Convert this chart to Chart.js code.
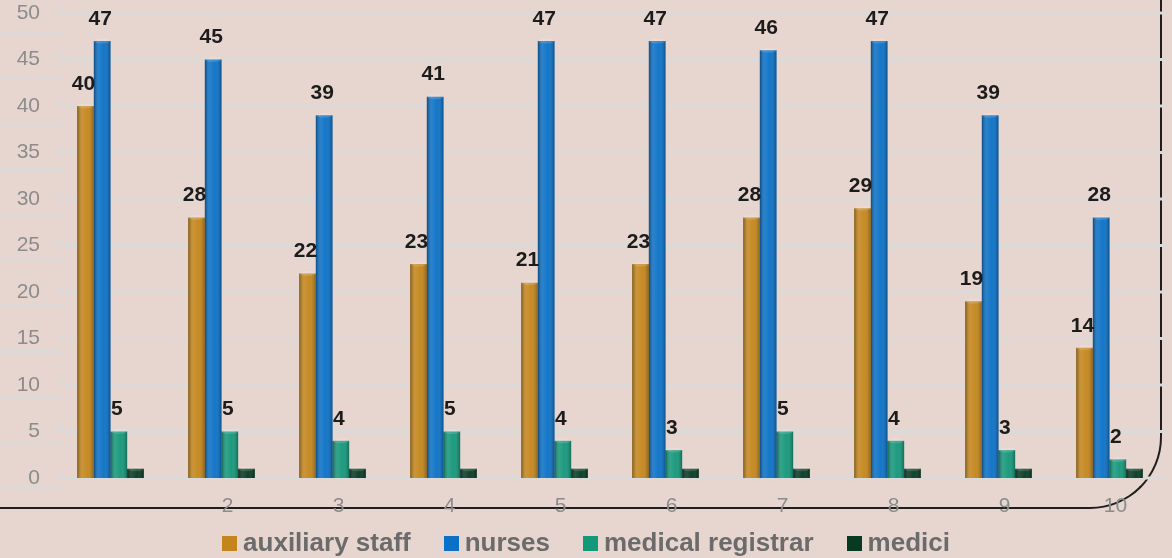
<!DOCTYPE html>
<html>
<head>
<meta charset="utf-8">
<script src="https://cdn.jsdelivr.net/npm/chart.js@4"></script>
<style>
html, body { margin: 0; padding: 0; }
body { width: 1172px; height: 558px; background: #e7d5cf; position: relative; overflow: hidden; font-family: "Liberation Sans", Arial, sans-serif; }
#frame { position: absolute; left: -10px; top: -10px; width: 1172px; height: 519px; box-sizing: border-box; border-right: 2px solid #1e1e1e; border-bottom: 2px solid #1e1e1e; border-bottom-right-radius: 72px; }
#wrap { position: absolute; left: 0; top: 0; width: 1172px; height: 558px; }
#legend { position: absolute; left: 0; top: 527px; width: 1172px; display: flex; justify-content: center; gap: 33px; font-weight: bold; font-size: 26px; color: #6b6b6b; }
#legend span.item { display: flex; align-items: center; }
#legend span.box { display: inline-block; width: 15px; height: 15px; margin-right: 6px; margin-top: 2px; }
</style>
</head>
<body>
<div id="frame"></div>
<div id="wrap"><canvas id="chart" width="1172" height="558"></canvas></div>
<div id="legend"></div>
<script>
// datos
const categories = ['1', '2', '3', '4', '5', '6', '7', '8', '9', '10'];
const seriesNames = ['auxiliary staff', 'nurses', 'medical registrar', 'medici'];
const auxiliaryStaff = [40, 28, 22, 23, 21, 23, 28, 29, 19, 14];
const nurses = [47, 45, 39, 41, 47, 47, 46, 47, 39, 28];
const medicalRegistrar = [5, 5, 4, 5, 4, 3, 5, 4, 3, 2];
const medici = [1, 1, 1, 1, 1, 1, 1, 1, 1, 1];
const yMax = 50;
const yStep = 5;

const colors = ['#c4861c', '#0b71c6', '#15977a', '#073a23'];
const seriesData = [auxiliaryStaff, nurses, medicalRegistrar, medici];

// leyenda en HTML
const legend = document.getElementById('legend');
seriesNames.forEach((name, i) => {
    const item = document.createElement('span');
    item.className = 'item';
    const box = document.createElement('span');
    box.className = 'box';
    box.style.background = colors[i];
    item.appendChild(box);
    item.appendChild(document.createTextNode(name));
    legend.appendChild(item);
});

// líneas de la cuadrícula con efecto de pared
const gridPlugin = {
    id: 'gridWall',
    beforeDatasetsDraw(chart) {
        const { ctx, chartArea, scales } = chart;
        const y = scales.y;
        ctx.save();
        ctx.lineWidth = 3;
        ctx.strokeStyle = '#dcdad9';
        y.ticks.forEach(t => {
            const py = y.getPixelForValue(t.value);
            const off = 10 + t.value * 0.2;
            ctx.beginPath();
            ctx.moveTo(0, py + off);
            ctx.lineTo(62, py + off);
            ctx.stroke();
            ctx.beginPath();
            ctx.moveTo(57, py - 4);
            ctx.quadraticCurveTo(62, py, 68, py);
            ctx.lineTo(chartArea.right, py);
            ctx.stroke();
        });
        ctx.restore();
    }
};

// sombreado de cilindro y etiquetas de valores
const shadePlugin = {
    id: 'shade',
    afterDatasetsDraw(chart) {
        const ctx = chart.ctx;
        ctx.save();
        chart.data.datasets.forEach((ds, di) => {
            const meta = chart.getDatasetMeta(di);
            meta.data.forEach((bar, i) => {
                const left = bar.x - bar.width / 2;
                const g = ctx.createLinearGradient(left, 0, left + bar.width, 0);
                g.addColorStop(0, 'rgba(0,0,0,0.35)');
                g.addColorStop(0.3, 'rgba(255,255,255,0.12)');
                g.addColorStop(0.6, 'rgba(255,255,255,0.04)');
                g.addColorStop(1, 'rgba(0,0,0,0.28)');
                ctx.fillStyle = g;
                ctx.fillRect(left, bar.y, bar.width, bar.base - bar.y);
                ctx.beginPath();
                ctx.ellipse(bar.x, bar.y, bar.width / 2, 2.5, 0, 0, Math.PI * 2);
                ctx.fillStyle = 'rgba(255,255,255,0.15)';
                ctx.fill();
            });
        });
        ctx.fillStyle = '#1c1c1c';
        ctx.font = 'bold 21px "Liberation Sans", Arial, sans-serif';
        ctx.textAlign = 'center';
        ctx.textBaseline = 'middle';
        chart.data.datasets.forEach((ds, di) => {
            if (di === 3) return;
            const meta = chart.getDatasetMeta(di);
            meta.data.forEach((bar, i) => {
                ctx.fillText(ds.data[i], bar.x - 2, bar.y - 22);
            });
        });
        ctx.restore();
    }
};

const ctx = document.getElementById('chart').getContext('2d');
new Chart(ctx, {
    type: 'bar',
    data: {
        labels: categories,
        datasets: seriesNames.map((name, i) => ({
            label: name,
            data: seriesData[i],
            backgroundColor: colors[i],
            borderWidth: 0,
            categoryPercentage: 0.6,
            barPercentage: 1
        }))
    },
    options: {
        responsive: false,
        animation: false,
        devicePixelRatio: 1,
        layout: { padding: { top: 13, right: 7, bottom: 41, left: 0 } },
        plugins: {
            legend: { display: false },
            tooltip: { enabled: false }
        },
        scales: {
            x: {
                grid: { display: false, drawTicks: false },
                border: { display: false },
                afterFit: s => { s.height = 39; },
                ticks: {
                    color: '#8c8c8c',
                    font: { size: 21, family: '"Liberation Sans", Arial, sans-serif' },
                    padding: 16,
                    labelOffset: 6,
                    callback: (v, i) => i === 0 ? '' : categories[i]
                }
            },
            y: {
                min: 0,
                max: yMax,
                grid: { display: false, drawTicks: false },
                border: { display: false },
                afterFit: s => { s.width = 55; s.paddingTop = 0; s.paddingBottom = 0; },
                ticks: {
                    stepSize: yStep,
                    color: '#8c8c8c',
                    padding: 15,
                    font: { size: 21, family: '"Liberation Sans", Arial, sans-serif' }
                }
            }
        }
    },
    plugins: [gridPlugin, shadePlugin]
});
</script>
</body>
</html>
